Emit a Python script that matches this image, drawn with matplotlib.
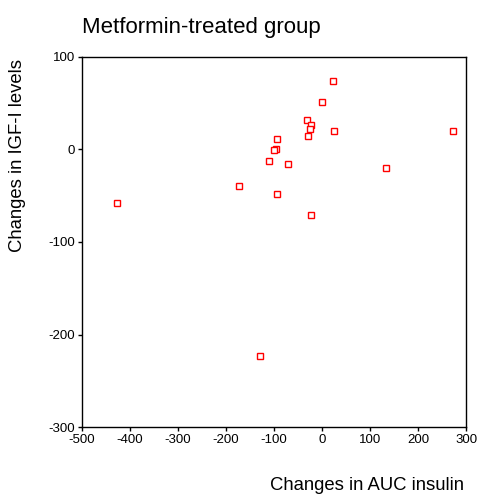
import matplotlib
matplotlib.use("Agg")
import matplotlib.pyplot as plt

plt.rcParams['font.family'] = ['Liberation Sans', 'DejaVu Sans']
plt.rcParams['axes.unicode_minus'] = False

# change in AUC insulin vs change in IGF-I, metformin arm
auc_insulin = [22, -1, -31, -22, -26, -29, 25, 272, -93, -96, -99,
               -110, -71, 134, -172, -93, -428, -23, -130]
igf1 = [74, 51, 32, 26, 22, 15, 20, 20, 11, 0, -1,
        -12, -16, -20, -39, -48, -58, -71, -223]

fig = plt.figure(figsize=(4.79, 4.96), dpi=100)
ax = fig.add_axes([0.1712, 0.1391, 0.8017, 0.746])

ax.plot(auc_insulin, igf1, linestyle='none', marker='s', markersize=5,
        markerfacecolor='white', markeredgecolor='red', markeredgewidth=1)

ax.set_xlim(-500, 300)
ax.set_ylim(-300, 100)
ax.set_xticks(range(-500, 301, 100))
ax.set_yticks(range(-300, 101, 100))
ax.tick_params(direction='out', length=3, width=1, labelsize=9.5, pad=2)
for s in ax.spines.values():
    s.set_linewidth(1)

fig.text(82 / 479, 1 - 28 / 496, 'Metformin-treated group', fontsize=16,
         ha='left', va='center')
fig.text(464 / 479, 1 - 485 / 496, 'Changes in AUC insulin', fontsize=13.3,
         ha='right', va='center')
fig.text(18 / 479, 1 - 155 / 496, 'Changes in IGF-I levels', fontsize=13.3,
         ha='center', va='center', rotation=90)

fig.savefig('out.png', dpi=100)
